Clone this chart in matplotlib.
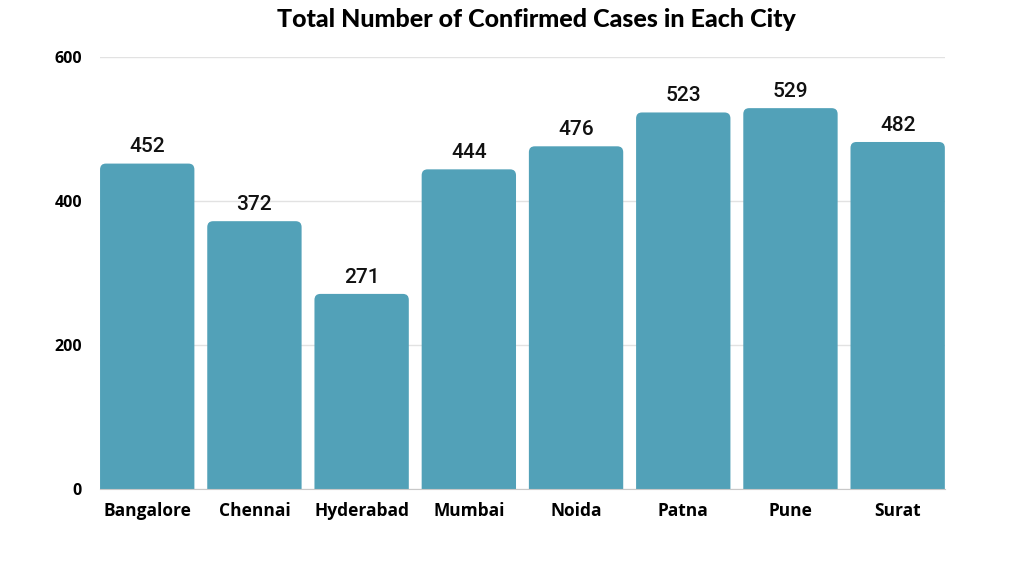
import matplotlib.pyplot as plt
from matplotlib.patches import FancyBboxPatch

cities = ['Bangalore', 'Chennai', 'Hyderabad', 'Mumbai', 'Noida', 'Patna', 'Pune', 'Surat']
cases = [452, 372, 271, 444, 476, 523, 529, 482]
yticks = [0, 200, 400, 600]

bar_color = '#52a1b8'
width = 0.88

fig = plt.figure(figsize=(10.24, 5.76), dpi=100)
ax = fig.add_axes([0.0977, 0.151, 0.825, 0.750])

# rounded box that starts below zero, so the axes clip its bottom corners away
rad = 0.055
aspect = 150
below = 30
for i, v in enumerate(cases):
    x0 = i - width / 2
    box = FancyBboxPatch((x0 + rad, -below + rad * aspect), width - 2 * rad,
                         v + below - 2 * rad * aspect,
                         boxstyle=f'round,pad={rad}', mutation_aspect=aspect,
                         facecolor=bar_color, edgecolor='none', zorder=3)
    ax.add_patch(box)
    ax.text(i, v + 10, str(v), ha='center', va='bottom', fontsize=15,
            family='Roboto', fontweight='medium', color='#111111')

ax.set_xlim(-width / 2, len(cities) - 1 + width / 2)
ax.set_ylim(0, 600)
ax.set_yticks(yticks)
ax.set_yticklabels([str(t) for t in yticks], family='Open Sans', fontweight='bold', fontsize=11.5)
ax.set_xticks(range(len(cities)))
ax.set_xticklabels(cities, family='Open Sans', fontweight='bold', fontsize=12.5)
ax.tick_params(length=0, pad=9)
ax.tick_params(axis='y', pad=13)

ax.grid(axis='y', color='#e2e2e2', linewidth=1, zorder=0)
for s in ['top', 'right', 'left']:
    ax.spines[s].set_visible(False)
ax.spines['bottom'].set_color('#c8c8c8')
ax.spines['bottom'].set_zorder(4)

fig.text(0.524, 0.967, 'Total Number of Confirmed Cases in Each City', ha='center', va='center',
         fontsize=18, fontweight='black', family='Lato')

fig.savefig('out.png', dpi=100, facecolor='white')
